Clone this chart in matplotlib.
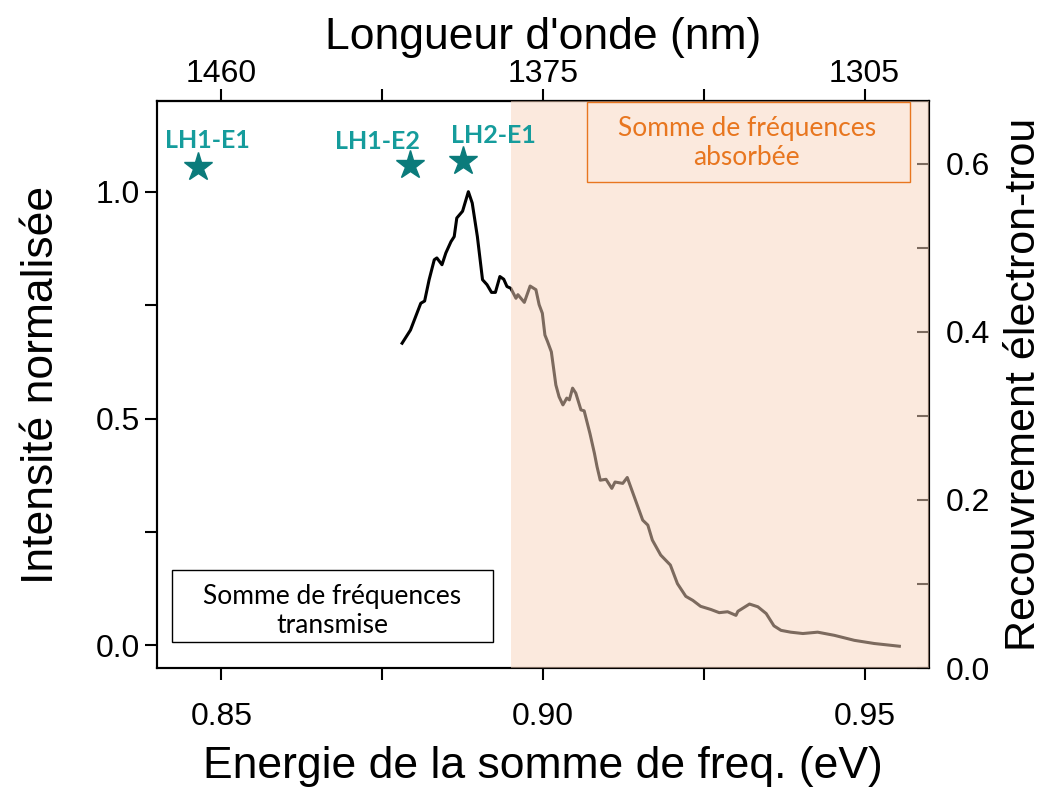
import matplotlib
matplotlib.use("Agg")
import matplotlib.pyplot as plt
from matplotlib.patches import Rectangle
from matplotlib.ticker import FixedLocator, FixedFormatter, MultipleLocator

# spectre de somme de fréquences (normalisé)
energy = [0.8781, 0.8794, 0.8810, 0.8816, 0.8823, 0.8831, 0.8835, 0.8843, 0.8849,
          0.8857, 0.8862, 0.8866, 0.8875, 0.8884, 0.8890, 0.8898, 0.8906, 0.8913,
          0.8920, 0.8926, 0.8933, 0.8939, 0.8944, 0.8950, 0.8958, 0.8961, 0.8971,
          0.8980, 0.8989, 0.8994, 0.8999, 0.9003, 0.9007, 0.9013, 0.9020, 0.9025,
          0.9031, 0.9037, 0.9041, 0.9046, 0.9051, 0.9059, 0.9064, 0.9073, 0.9080,
          0.9084, 0.9089, 0.9098, 0.9107, 0.9112, 0.9124, 0.9131, 0.9142, 0.9155,
          0.9163, 0.9170, 0.9183, 0.9198, 0.9209, 0.9222, 0.9233, 0.9245, 0.9261,
          0.9274, 0.9287, 0.9300, 0.9303, 0.9321, 0.9334, 0.9347, 0.9359, 0.9370,
          0.9385, 0.9404, 0.9427, 0.9453, 0.9484, 0.9515, 0.9554]
intensity = [0.666, 0.695, 0.754, 0.759, 0.806, 0.850, 0.854, 0.839, 0.865,
             0.890, 0.901, 0.942, 0.957, 1.000, 0.975, 0.901, 0.806, 0.795,
             0.778, 0.778, 0.813, 0.807, 0.791, 0.787, 0.765, 0.773, 0.756,
             0.792, 0.784, 0.751, 0.732, 0.684, 0.670, 0.647, 0.574, 0.548,
             0.530, 0.545, 0.541, 0.567, 0.556, 0.519, 0.517, 0.467, 0.423,
             0.394, 0.364, 0.366, 0.346, 0.360, 0.357, 0.370, 0.327, 0.276,
             0.265, 0.232, 0.199, 0.177, 0.136, 0.108, 0.099, 0.086, 0.079,
             0.072, 0.074, 0.066, 0.075, 0.091, 0.085, 0.070, 0.043, 0.033,
             0.029, 0.026, 0.029, 0.022, 0.011, 0.004, -0.002]

# transitions calculées et recouvrement électron-trou
star_energy = [0.8463, 0.8793, 0.8876]
star_overlap = [0.596, 0.599, 0.604]
star_labels = ["LH1-E1", "LH1-E2", "LH2-E1"]
star_offsets = [(7, 19), (-23, 17), (22, 18)]

absorbed_from = 0.895
wl_tick_energy = [0.85, 0.90, 0.95]
wl_tick_labels = ["1460", "1375", "1305"]

plt.rcParams['font.family'] = ['Liberation Sans', 'DejaVu Sans']

fig, ax = plt.subplots(figsize=(10.44, 7.87), dpi=100)
fig.subplots_adjust(left=0.1504, right=0.8898, bottom=0.1512, top=0.8717)

ax.plot(energy, intensity, color='black', lw=2.2)
ax.set_xlim(0.84, 0.96)
ax.set_ylim(-0.05, 1.2)
ax.xaxis.set_major_locator(FixedLocator([0.85, 0.90, 0.95]))
ax.xaxis.set_major_formatter(FixedFormatter(["0.85", "0.90", "0.95"]))
ax.xaxis.set_minor_locator(MultipleLocator(0.025))
ax.yaxis.set_major_locator(MultipleLocator(0.5))
ax.yaxis.set_minor_locator(MultipleLocator(0.25))
ax.tick_params(which='both', direction='out', length=8.5, width=1.5, labelsize=23)
ax.tick_params(axis='x', pad=16)
ax.tick_params(axis='y', pad=4)
ax.set_xlabel("Energie de la somme de freq. (eV)", fontsize=32, labelpad=10)
ax.set_ylabel("Intensité normalisée", fontsize=32, labelpad=24)
for s in ax.spines.values():
    s.set_linewidth(1.5)

# axe du haut : longueur d'onde
top = ax.secondary_xaxis('top')
top.xaxis.set_major_locator(FixedLocator(wl_tick_energy))
top.xaxis.set_major_formatter(FixedFormatter(wl_tick_labels))
top.xaxis.set_minor_locator(FixedLocator([0.875, 0.925]))
top.tick_params(which='both', direction='out', length=8.5, width=1.5, labelsize=23, pad=0)
top.set_xlabel("Longueur d'onde (nm)", fontsize=32, labelpad=7)
top.spines['top'].set_linewidth(1.5)

# axe de droite : recouvrement
ax_r = ax.twinx()
ax_r.set_ylim(0, 0.675)
ax_r.yaxis.set_major_locator(MultipleLocator(0.2))
ax_r.yaxis.set_minor_locator(MultipleLocator(0.1))
ax_r.tick_params(which='both', direction='in', length=8.5, width=1.5, labelsize=23, pad=12)
ax_r.set_ylabel("Recouvrement électron-trou", fontsize=31, labelpad=10)
for s in ax_r.spines.values():
    s.set_linewidth(1.5)

ax_r.plot(star_energy, star_overlap, ls='none', marker='*', ms=21,
          color='#0b7b7b', zorder=6)
for e, o, lab, off in zip(star_energy, star_overlap, star_labels, star_offsets):
    ax_r.annotate(lab, (e, o), xytext=off, textcoords='offset points',
                  ha='center', va='center', fontsize=18, fontweight='bold',
                  family='Lato', color='#159c9c', zorder=6)

# zone absorbée (semi-transparente, par-dessus la courbe)
ax_r.axvspan(absorbed_from, 0.96, color='#f8d5bd', alpha=0.5, lw=0, zorder=4)

# encadrés
ax_r.add_patch(Rectangle((0.0194, 0.0459), 0.4158, 0.1269, transform=ax.transAxes,
                         fc='white', ec='black', lw=1.0, zorder=7))
ax_r.text(0.2267, 0.1014, "Somme de fréquences\ntransmise", transform=ax.transAxes,
          ha='center', va='center', fontsize=19, family='Lato', color='black',
          linespacing=1.2, zorder=8)
ax_r.add_patch(Rectangle((0.557, 0.857), 0.4184, 0.141, transform=ax.transAxes,
                         fc='none', ec='#e8761f', lw=1.0, zorder=7))
ax_r.text(0.764, 0.925, "Somme de fréquences\nabsorbée", transform=ax.transAxes,
          ha='center', va='center', fontsize=19, family='Lato', color='#e8761f',
          linespacing=1.2, zorder=8)

fig.savefig("out.png", dpi=100)
